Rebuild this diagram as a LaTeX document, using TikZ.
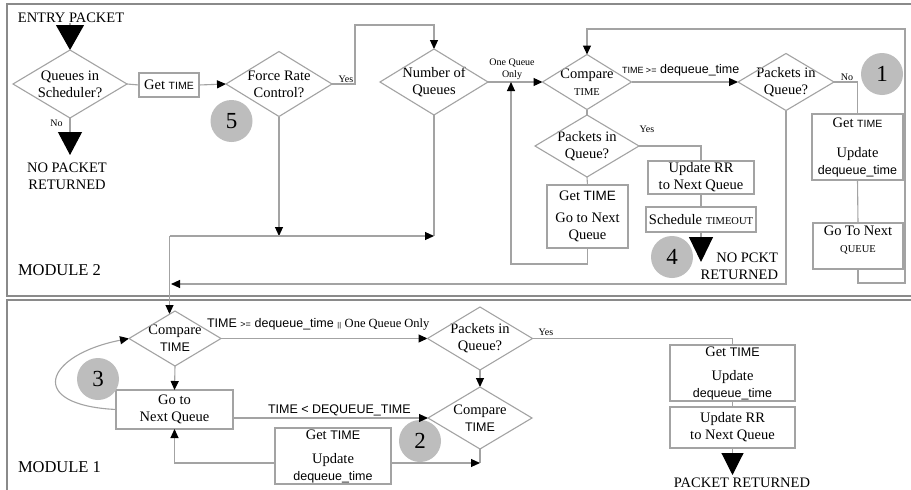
\documentclass[tikz,border=0pt]{standalone}
\usepackage{fontspec}
\setmainfont{Liberation Serif}
\setsansfont{Liberation Sans}
\usetikzlibrary{arrows.meta}
\definecolor{lg}{HTML}{A3A3A3}
\definecolor{mg}{HTML}{8A8A8A}
\definecolor{cg}{HTML}{BDBDBD}
\newcommand{\tS}{\sffamily\fontsize{10.5}{12}\selectfont}
\newcommand{\tXS}{\sffamily\fontsize{9}{11}\selectfont}
\newcommand{\tXXS}{\sffamily\fontsize{7}{9}\selectfont}
\newcommand{\tM}{\sffamily\fontsize{12.5}{14}\selectfont}
\newcommand{\tR}{\rmfamily\fontsize{10.5}{12}\selectfont}
\begin{document}
\begin{tikzpicture}[x=1pt,y=-1pt,
  every node/.style={inner sep=0pt, outer sep=0pt, font=\fontsize{14.5}{17}\selectfont},
  ln/.style={draw=lg, line width=1.1pt},
  arr/.style={ln, -{Triangle[length=9pt,width=8pt,color=black]}},
  box/.style={draw=lg, line width=1.1pt, rectangle, align=center},
  dia/.style={rectangle, align=center},
  num/.style={circle, fill=cg, minimum size=42pt, font=\fontsize{23}{23}\selectfont},
  lbl/.style={font=\fontsize{10}{12}\selectfont, align=center},
  modl/.style={draw=mg, line width=1.3pt}]

\fill[white] (0,0) rectangle (911,490);
\useasboundingbox (0,0) rectangle (911,490);

% module frames
\draw[modl] (914,4) -- (7,4) -- (7,296) -- (914,296);
\draw[modl] (914,300) -- (7,300) -- (7,493);

% ---------------- MODULE 2 ----------------
\node (entry) at (71,18) {ENTRY PACKET};
\node[dia, minimum width=114pt, minimum height=68pt] (q) at (70,84) {Queues in\\Scheduler?};
\node[align=center] (nopkt) at (67,176.5) {NO PACKET\\RETURNED};
\node[box, minimum width=60pt, minimum height=24pt] (gt1) at (169,85) {Get {\tS TIME}};
\node[dia, minimum width=106pt, minimum height=65pt] (f) at (279,84) {Force Rate\\Control?};
\node[num] (n5) at (231.5,121) {5};
\node[dia, minimum width=108pt, minimum height=66pt] (nq) at (434,82) {Number of\\Queues};
\node[dia, minimum width=89pt, minimum height=55pt] (ca) at (587,82) {Compare\\{\tR TIME}};
\node[dia, minimum width=96pt, minimum height=57pt] (pa) at (786,82) {Packets in\\Queue?};
\node[num] (n1) at (882,74) {1};
\node[box, minimum width=91pt, minimum height=66pt] (ra) at (857.5,147) {Get {\tS TIME}\\[13pt]Update\\{\tM dequeue\_time}};
\node[box, minimum width=90pt, minimum height=46pt] (rb) at (858,246) {};
\node[align=center] (rbt) at (858,240) {Go To Next\\{\tR QUEUE}};
\node[dia, minimum width=104pt, minimum height=62pt] (pb) at (587,146) {Packets in\\Queue?};
\node[box, minimum width=81pt, minimum height=63pt] (gn) at (587.5,216.5) {Get {\sffamily\fontsize{13.5}{15}\selectfont TIME}\\[5pt]Go to Next\\Queue};
\node[box, minimum width=106pt, minimum height=33pt] (rr) at (701,177.5) {Update RR\\to Next Queue};
\node[box, minimum width=110pt, minimum height=25pt] (sch) at (701,219.5) {Schedule {\tR TIMEOUT}};
\node[num] (n4) at (672,257) {4};
\node[align=right, anchor=east] (np) at (778,266.5) {NO PCKT\\RETURNED};
\node[anchor=west, font=\fontsize{16.5}{18}\selectfont] (m2) at (18,270) {MODULE 2};

\node[lbl] (lno1) at (56.5,123) {No};
\node[lbl] (lyes1) at (346,79) {Yes};
\node[lbl] (loqo) at (512,69) {One Queue\\Only};
\node[anchor=base west] (lta) at (622,73.5) {{\tXS TIME >=} {\tM dequeue\_time}};
\node[lbl] (lno2) at (847,77) {No};
\node[lbl] (lyes2) at (647,129) {Yes};

\coordinate (e1) at (70,155);
\coordinate (k1) at (355,25);
\coordinate (k2) at (511,264);
\coordinate (k3) at (905,283);
\coordinate (k4) at (905,29);
\coordinate (k5) at (171,284);
\coordinate (k6) at (279,236);
\coordinate (k7) at (434,236);
\coordinate (k8) at (169.5,236);
\coordinate (k9) at (169.5,314);
\coordinate (e2) at (701,262);

\draw[ln, -{Triangle[length=25pt,width=28pt,color=black]}] (entry.south -| q.north) -- (q.north);
\draw[ln, -{Triangle[length=23pt,width=24pt,color=black]}] (q.south) -- (e1);
\draw[ln] (q.east) -- (gt1.west);
\draw[arr] (gt1.east) -- (f.west);
\draw[arr] (f.east) -| (k1) -| (nq.north);
\draw[arr] (nq.east) -- (ca.west);
\draw[arr] (ca.east) -- (pa.west);
\draw[ln] (pa.east) -| (ra.north);
\draw[ln] (ra.south) -- (rb.north);
\draw[arr] (rb.south) |- (k3) -- (k4) -| (ca.north);
\draw[ln] (ca.south) -- (pb.north);
\draw[ln] (pb.south) -- (gn.north);
\draw[arr] (gn.south) |- (k2) -- (k2 |- nq.east);
\draw[ln] (pb.east) -| (rr.north);
\draw[ln] (rr.south) -- (sch.north);
\draw[ln, -{Triangle[length=25pt,width=24pt,color=black]}] (sch.south) -- (e2);
\draw[arr] (pa.south) |- (k5);
\draw[arr] (f.south) -- (k6);
\draw[ln] (nq.south) -- (k7);
\draw[arr] (k8) -- (k7);
\draw[arr] (k8) -- (k9);

% ---------------- MODULE 1 ----------------
\node[dia, minimum width=92pt, minimum height=55pt] (cb) at (175,338.5) {Compare\\{\tM TIME}};
\node[dia, minimum width=105pt, minimum height=63pt] (pc) at (480,338.5) {Packets in\\Queue?};
\node[dia, minimum width=104pt, minimum height=62pt] (cc) at (480,418) {Compare\\{\tM TIME}};
\node[box, minimum width=117pt, minimum height=39pt] (gq) at (174.5,409.5) {Go to\\Next Queue};
\node[box, minimum width=116pt, minimum height=56pt] (gu) at (333,456) {Get {\tM TIME}\\[7pt]Update\\{\tM dequeue\_time}};
\node[box, minimum width=125pt, minimum height=56pt] (gr) at (732.5,373) {Get {\tM TIME}\\[7pt]Update\\{\tM dequeue\_time}};
\node[box, minimum width=125pt, minimum height=41pt] (rb1) at (732.5,427.5) {Update RR\\to Next Queue};
\node[num] (n3) at (98,379) {3};
\node[num] (n2) at (420,441) {2};
\node (pr) at (742,483) {PACKET RETURNED};
\node[anchor=west, font=\fontsize{16.5}{18}\selectfont] (m1) at (18,467) {MODULE 1};
\node[anchor=base west] (ltb) at (207,327) {{\tM TIME} {\tXS >=} {\tM dequeue\_time} {\tXXS ||} {\rmfamily\fontsize{12.5}{14}\selectfont One Queue Only}};
\node[lbl] (lyes3) at (546,332) {Yes};
\node[anchor=base west] (ltc) at (268,413) {\tM TIME < DEQUEUE\_TIME};

\coordinate (e3) at (732.5,475);
\coordinate (k10) at (480,463);

\draw[arr] (cb.east) -- (pc.west);
\draw[ln] (pc.east) -| (gr.north);
\draw[ln] (gr.south) -- (rb1.north);
\draw[ln, -{Triangle[length=22pt,width=22pt,color=black]}] (rb1.south) -- (e3);
\draw[arr] (pc.south) -- (cc.north);
\draw[arr] (cb.south) -- (gq.north);
\draw[arr] (gq.east |- cc.west) -- (cc.west);
\draw[arr] ([yshift=-7pt]gu.west) -| (gq.south);
\draw[ln] (cc.south) -- (k10);
\draw[arr] ([yshift=-7pt]gu.east) -- (k10);
\draw[arr] (gq.west) .. controls (25,405) and (45,355) .. (cb.west);

% diamond outlines
\foreach \d in {q,f,nq,ca,pa,pb,cb,pc,cc}
  \draw[ln] (\d.north) -- (\d.east) -- (\d.south) -- (\d.west) -- cycle;
\end{tikzpicture}
\end{document}
